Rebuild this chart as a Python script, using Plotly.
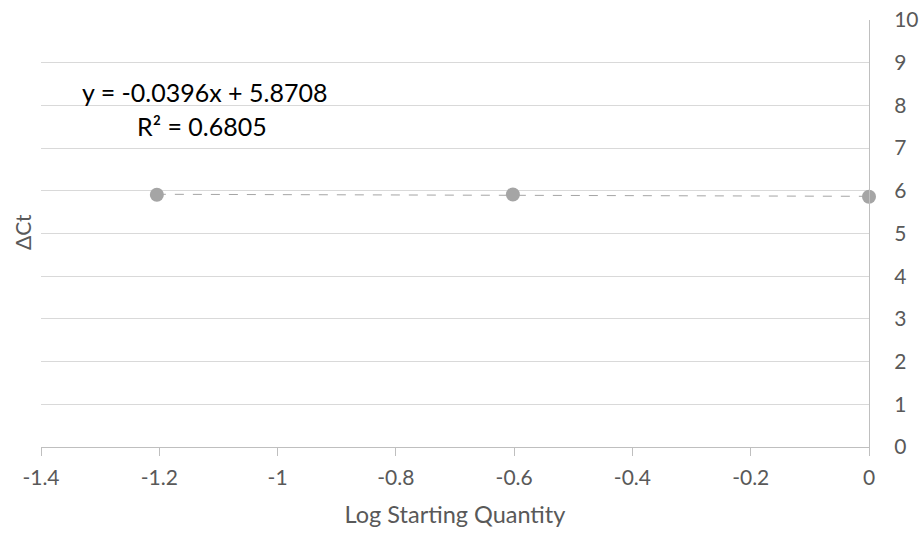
import numpy as np
import plotly.graph_objects as go

# Standard curve data: log of starting quantity vs. delta Ct
log_qty = [-1.2041, -0.6021, 0.0]
delta_ct = [5.909, 5.914, 5.861]

# Linear trendline coefficients (as printed on the chart)
slope = -0.0396
intercept = 5.8708
r_squared = 0.6805

x_ticks = [-1.4, -1.2, -1.0, -0.8, -0.6, -0.4, -0.2, 0.0]
x_tick_text = ["-1.4", "-1.2", "-1", "-0.8", "-0.6", "-0.4", "-0.2", "0"]
y_ticks = list(range(0, 11))

text_color = "#595959"
font_family = "Lato, 'Open Sans', sans-serif"

# plot area in pixels
L, R, T, B = 41, 869, 20, 447


def px_to_paper(px, py):
    return (px - L) / (R - L), (B - py) / (B - T)


trend_x = np.array([min(log_qty), max(log_qty)])
trend_y = slope * trend_x + intercept

fig = go.Figure()

fig.add_trace(go.Scatter(
    x=trend_x, y=trend_y, mode="lines",
    line=dict(color="#a5a5a5", width=1, dash="dash"),
    hoverinfo="skip", showlegend=False,
))

fig.add_trace(go.Scatter(
    x=log_qty, y=delta_ct, mode="markers",
    marker=dict(color="#a5a5a5", size=14),
    showlegend=False, cliponaxis=False,
))

ex, ey = px_to_paper(80, 92)
fig.add_annotation(
    x=ex, y=ey, xref="paper", yref="paper", xanchor="left", yanchor="middle",
    text=f"y = {slope:.4f}x + {intercept:.4f}", showarrow=False,
    font=dict(size=25, color="#000000", family=font_family),
)
rx, ry = px_to_paper(135, 126)
fig.add_annotation(
    x=rx, y=ry, xref="paper", yref="paper", xanchor="left", yanchor="middle",
    text=f"R² = {r_squared:.4f}", showarrow=False,
    font=dict(size=25, color="#000000", family=font_family),
)

# Y-axis title sits on the left even though the axis is drawn at x = 0
tx, ty = px_to_paper(22, 232)
fig.add_annotation(
    x=tx, y=ty, xref="paper", yref="paper", text="ΔCt", showarrow=False,
    xanchor="center", yanchor="middle",
    textangle=-90, font=dict(size=21, color=text_color, family=font_family),
)

fig.update_layout(
    width=923, height=533,
    margin=dict(l=L, r=923 - R, t=T, b=533 - B),
    plot_bgcolor="white", paper_bgcolor="white",
    font=dict(family=font_family, color=text_color, size=21),
    xaxis=dict(
        range=[-1.4, 0], tickvals=x_ticks, ticktext=x_tick_text,
        showgrid=False, zeroline=False, automargin=False,
        showline=True, linecolor="#bfbfbf", linewidth=1,
        ticks="outside", ticklen=8, tickcolor="#bfbfbf",
        ticklabelstandoff=4,
        tickfont=dict(size=21, color=text_color),
        title=dict(text="Log Starting Quantity", font=dict(size=23.5, color=text_color), standoff=18),
    ),
    yaxis=dict(
        range=[0, 10], tickvals=y_ticks, side="right",
        showgrid=True, gridcolor="#d9d9d9", gridwidth=1,
        zeroline=False, showline=True, linecolor="#bfbfbf", linewidth=1,
        ticks="", ticklabelstandoff=20, automargin=False,
        tickfont=dict(size=21, color=text_color),
    ),
)

fig.write_html("out.html")
